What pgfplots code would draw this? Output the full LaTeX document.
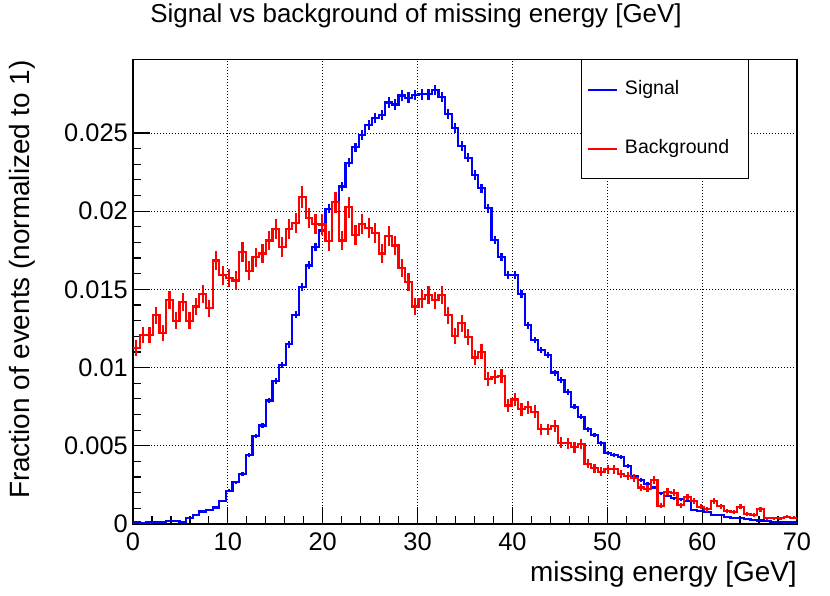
\documentclass[border=0pt]{standalone}
\usepackage{fontspec}
\setmainfont{Liberation Sans}
\usepackage{pgfplots}
\usepackage{pgfplotstable}
\pgfplotsset{compat=1.18}

% Signal histogram: bin centre, content, error (100 bins, 0.7 GeV)
\pgfplotstableread{
x y e
0 0.0001 0
0.35 0.0001 0.00002
1.05 0.00005 0.000014
1.75 0.0001 0.00002
2.45 0.00012 0.000022
3.15 0.00015 0.000025
3.85 0.0002 0.000028
4.55 0.0002 0.000028
5.25 0.00015 0.000025
5.95 0.00036 0.000038
6.65 0.00057 0.000048
7.35 0.0008 0.000057
8.05 0.0009 0.00006
8.75 0.00106 0.000065
9.45 0.00147 0.000077
10.15 0.00213 0.000092
10.85 0.00266 0.000103
11.55 0.0032 0.000113
12.25 0.0044 0.000133
12.95 0.00562 0.00015
13.65 0.0063 0.000159
14.35 0.0079 0.000178
15.05 0.00913 0.000191
15.75 0.01015 0.000201
16.45 0.01149 0.000214
17.15 0.01338 0.000231
17.85 0.01515 0.000246
18.55 0.01653 0.000257
19.25 0.0177 0.000266
19.95 0.01877 0.000274
20.65 0.02015 0.000284
21.35 0.02057 0.000287
22.05 0.02158 0.000294
22.75 0.0231 0.000304
23.45 0.02408 0.00031
24.15 0.02487 0.000315
24.85 0.02551 0.000319
25.55 0.02594 0.000322
26.25 0.02615 0.000323
26.95 0.02695 0.000328
27.65 0.02682 0.000328
28.35 0.0274 0.000331
29.05 0.02726 0.00033
29.75 0.02743 0.000331
30.45 0.02747 0.000331
31.15 0.02747 0.000331
31.85 0.02775 0.000333
32.55 0.02732 0.000331
33.25 0.02619 0.000324
33.95 0.0253 0.000318
34.65 0.02419 0.000311
35.35 0.02342 0.000306
36.05 0.02231 0.000299
36.75 0.02146 0.000293
37.45 0.02018 0.000284
38.15 0.01816 0.00027
38.85 0.01709 0.000261
39.55 0.01592 0.000252
40.25 0.01592 0.000252
40.95 0.0147 0.000242
41.65 0.01272 0.000226
42.35 0.01176 0.000217
43.05 0.01113 0.000211
43.75 0.01081 0.000208
44.45 0.00968 0.000197
45.15 0.00921 0.000192
45.85 0.00846 0.000184
46.55 0.0075 0.000173
47.25 0.00686 0.000166
47.95 0.00605 0.000156
48.65 0.00569 0.000151
49.35 0.00516 0.000144
50.05 0.00456 0.000135
50.75 0.00441 0.000133
51.45 0.00426 0.000131
52.15 0.00371 0.000122
52.85 0.00307 0.000111
53.55 0.00281 0.000106
54.25 0.00258 0.000102
54.95 0.00234 0.000097
55.65 0.00196 0.000089
56.35 0.00179 0.000085
57.05 0.00164 0.000081
57.75 0.00158 0.000079
58.45 0.00149 0.000077
59.15 0.0009 0.00006
59.85 0.00085 0.000058
60.55 0.00079 0.000056
61.25 0.00055 0.000047
61.95 0.00055 0.000047
62.65 0.00047 0.000043
63.35 0.0004 0.00004
64.05 0.00038 0.000039
64.75 0.0003 0.000035
65.45 0.00028 0.000033
66.15 0.00023 0.00003
66.85 0.00019 0.000028
67.55 0.00015 0.000024
68.25 0.00013 0.000023
68.95 0.0001 0.00002
69.65 0.0001 0.00002
70 0.0001 0
}\sigtab

% Background histogram: bin centre, content, error
\pgfplotstableread{
x y e
0 0.01126 0
0.35 0.01126 0.000499
1.05 0.0121 0.000517
1.75 0.0121 0.000517
2.45 0.01334 0.000543
3.15 0.0122 0.000519
3.85 0.01434 0.000563
4.55 0.0130 0.000536
5.25 0.0142 0.00056
5.95 0.0130 0.000536
6.65 0.0139 0.000554
7.35 0.01472 0.00057
8.05 0.0138 0.000552
8.75 0.01685 0.00061
9.45 0.0159 0.000593
10.15 0.01574 0.00059
10.85 0.01557 0.000586
11.55 0.0174 0.00062
12.25 0.0162 0.000598
12.95 0.01706 0.000614
13.65 0.0173 0.000618
14.35 0.01813 0.000633
15.05 0.01887 0.000646
15.75 0.0177 0.000625
16.45 0.01887 0.000646
17.15 0.01923 0.000652
17.85 0.0209 0.00068
18.55 0.01957 0.000657
19.25 0.0192 0.00065
19.95 0.01915 0.00065
20.65 0.01809 0.000632
21.35 0.02057 0.000674
22.05 0.01812 0.000633
22.75 0.02025 0.000669
23.45 0.0185 0.000639
24.15 0.0192 0.00065
24.85 0.0189 0.000646
25.55 0.0186 0.000641
26.25 0.0173 0.000618
26.95 0.0184 0.000638
27.65 0.0178 0.000627
28.35 0.01637 0.000601
29.05 0.01546 0.000584
29.75 0.0139 0.000554
30.45 0.0144 0.000564
31.15 0.01464 0.000569
31.85 0.0143 0.000562
32.55 0.01464 0.000569
33.25 0.01336 0.000543
33.95 0.01202 0.000515
34.65 0.01283 0.000532
35.35 0.01198 0.000514
36.05 0.01064 0.000485
36.75 0.01102 0.000493
37.45 0.00927 0.000453
38.15 0.00942 0.000456
38.85 0.00948 0.000458
39.55 0.00757 0.000409
40.25 0.00796 0.000419
40.95 0.00733 0.000402
41.65 0.00746 0.000406
42.35 0.00718 0.000398
43.05 0.00605 0.000366
43.75 0.00605 0.000366
44.45 0.00627 0.000372
45.15 0.0052 0.000339
45.85 0.00516 0.000338
46.55 0.0049 0.000329
47.25 0.00512 0.000336
47.95 0.00384 0.000291
48.65 0.00356 0.00028
49.35 0.00335 0.000272
50.05 0.0035 0.000278
50.75 0.0035 0.000278
51.45 0.0032 0.000266
52.15 0.00307 0.00026
52.85 0.00292 0.000254
53.55 0.00234 0.000227
54.25 0.00225 0.000223
54.95 0.00281 0.000249
55.65 0.00117 0.000161
56.35 0.00207 0.000214
57.05 0.002 0.00021
57.75 0.00121 0.000164
58.45 0.00175 0.000197
59.15 0.00149 0.000181
59.85 0.00111 0.000157
60.55 0.00094 0.000144
61.25 0.00149 0.000181
61.95 0.00115 0.000159
62.65 0.00083 0.000135
63.35 0.00077 0.00013
64.05 0.00111 0.000157
64.75 0.00062 0.000117
65.45 0.00058 0.000113
66.15 0.00094 0.000144
66.85 0.00036 0.000089
67.55 0.00036 0.000089
68.25 0.00036 0.000089
68.95 0.00047 0.000102
69.65 0.0004 0.000094
70 0.0004 0
}\bkgtab

\begin{document}
\begin{tikzpicture}
\useasboundingbox (-133bp,-72bp) rectangle (697bp,524bp);
\begin{axis}[
  at={(0,0)}, anchor=origin,
  scale only axis, width=664bp, height=464.7bp,
  xmin=0, xmax=70, ymin=0, ymax=0.02971,
  xtick={0,10,20,30,40,50,60,70},
  xticklabels={0,10,20,30,40,50,60,70},
  ytick={0,0.005,0.01,0.015,0.02,0.025},
  yticklabels={0,0.005,0.01,0.015,0.02,0.025},
  scaled x ticks=false, scaled y ticks=false,
  minor x tick num=4, minor y tick num=4,
  tick align=inside, xtick pos=bottom, ytick pos=left,
  major tick length=17bp, minor tick length=8bp,
  tick style={black, line width=1.2bp},
  axis line style={line width=1.2bp},
  grid=major,
  grid style={black, line width=0.8bp, dash pattern=on 1bp off 2bp},
  /pgf/number format/assume math mode=true,
  tick label style={font=\fontsize{25.5}{28}\selectfont},
  yticklabel style={inner sep=0pt, anchor=east, xshift=-5bp},
  xticklabel style={inner sep=0pt, anchor=north, yshift=-8.7bp},
  title={Signal vs background of missing energy [GeV]},
  title style={at={(0.4262,1)}, anchor=base, yshift=31bp, inner sep=0pt,
    font=\fontsize{26}{30}\selectfont},
  xlabel={missing energy [GeV]},
  xlabel style={at={(1,0)}, anchor=base east, yshift=-57bp, inner sep=0pt,
    font=\fontsize{28}{32}\selectfont},
  ylabel={Fraction of events (normalized to 1)},
  ylabel style={at={(-0.1562,0.9985)}, anchor=base east, inner sep=0pt,
    font=\fontsize{28}{32}\selectfont},
  legend image code/.code={\draw[#1] (0bp,0bp) -- (29bp,0bp);},
  legend cell align=left,
  legend style={at={(0.6747,1)}, anchor=north west, draw=black, line width=1.2bp,
    fill=white, inner xsep=5.5bp, inner ysep=21bp, row sep=41bp, column sep=6.7bp,
    font=\fontsize{19.6}{22}\selectfont,
    nodes={inner sep=0pt, text height=14bp, text depth=4bp}},
]
\addplot[blue, line width=2.2bp, const plot mark mid, mark=none, forget plot,
  error bars/.cd, y dir=both, y explicit, error mark=none,
  error bar style={line width=2.2bp, blue}]
  table[x=x, y=y, y error=e] {\sigtab};
\addplot[red, line width=2.2bp, const plot mark mid, mark=none, forget plot,
  error bars/.cd, y dir=both, y explicit, error mark=none,
  error bar style={line width=2.2bp, red}]
  table[x=x, y=y, y error=e] {\bkgtab};
\addlegendimage{draw=blue, line width=2.2bp}
\addlegendentry{\makebox[118.3bp][l]{Signal}}
\addlegendimage{draw=red, line width=2.2bp}
\addlegendentry{\makebox[118.3bp][l]{Background}}
\end{axis}
\end{tikzpicture}
\end{document}
